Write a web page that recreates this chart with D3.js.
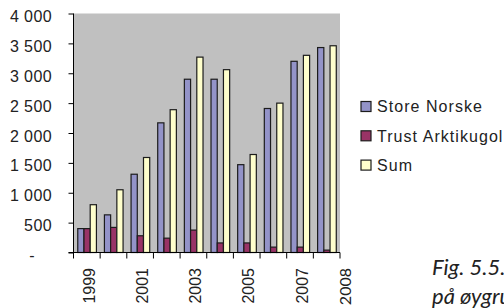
<!DOCTYPE html>
<html>
<head>
<meta charset="utf-8">
<script src="https://cdn.jsdelivr.net/npm/d3@7"></script>
<style>
html,body{margin:0;padding:0;background:#fff;overflow:hidden;}
svg{display:block;}
</style>
</head>
<body>
<svg id="chart" width="504" height="308"></svg>
<script>
const years = ["1999","2000","2001","2002","2003","2004","2005","2006","2007","2008"];
const storeNorske = [400, 630, 1310, 2170, 2900, 2900, 1470, 2410, 3200, 3430];
const trustArktikugol = [400, 420, 280, 240, 375, 160, 160, 90, 90, 40];
const sum = [800, 1050, 1590, 2390, 3270, 3060, 1640, 2500, 3300, 3460];
const seriesNames = ["Store Norske", "Trust Arktikugol", "Sum"];
const seriesColors = ["#9393c8", "#993366", "#ffffcc"];
const yTicks = [0, 500, 1000, 1500, 2000, 2500, 3000, 3500, 4000];
const xLabels = ["1999", "2001", "2003", "2005", "2007"];
const edgeLabel = "2008";
const captionLines = ["Fig. 5.5.", "på øygru"];

const allSeries = [storeNorske, trustArktikugol, sum];
const svg = d3.select("#chart");

const pL = 73.5, pR = 340, pT = 13.5, pB = 252.5;

const x0 = d3.scaleBand().domain(years).range([pL, pR]).padding(0);
const bw = x0.bandwidth();
const x1 = d3.scaleBand().domain(seriesNames).range([bw * 0.16, bw * 0.86]).padding(0);
const y = d3.scaleLinear().domain([0, 4000]).range([pB, pT]);

// plot background
svg.append("rect").attr("x", pL).attr("y", pT).attr("width", pR - pL).attr("height", pB - pT)
  .attr("fill", "#c0c0c0");

// bars
const groups = svg.append("g").selectAll("g").data(years).join("g")
  .attr("transform", d => `translate(${x0(d)},0)`);
groups.selectAll("rect").data((d, i) => seriesNames.map((s, j) => ({s, j, v: allSeries[j][i]})))
  .join("rect")
  .attr("x", d => x1(d.s))
  .attr("y", d => y(d.v))
  .attr("width", x1.bandwidth())
  .attr("height", d => y(0) - y(d.v))
  .attr("fill", d => seriesColors[d.j])
  .attr("stroke", "#1c1c1c")
  .attr("stroke-width", 1.2);

// y axis
const yAxis = d3.axisLeft(y).tickValues(yTicks).tickSize(5).tickFormat("");
const gy = svg.append("g").attr("transform", `translate(${pL},0)`).call(yAxis);
gy.select(".domain").attr("stroke", "#000").attr("d", `M0,${pT}V${pB}`);
gy.selectAll(".tick line").attr("stroke", "#000");

svg.append("g").selectAll("text").data(yTicks).join("text")
  .attr("x", d => d === 0 ? 32 : 52)
  .attr("y", d => y(d) + 3)
  .attr("dy", "0.35em")
  .attr("text-anchor", d => d === 0 ? "middle" : "end")
  .attr("font-family", "'Liberation Sans', Arial, sans-serif")
  .attr("font-size", 16)
  .attr("letter-spacing", 0.4)
  .attr("fill", "#222")
  .text(d => d === 0 ? "-" : d3.format(",")(d).replace(/,/g, " "));

// x axis
const xEdges = years.map(d => x0(d)).concat([pR]);
const gx = svg.append("g");
gx.append("line").attr("x1", pL - 5).attr("x2", pR).attr("y1", pB).attr("y2", pB).attr("stroke", "#000");
gx.selectAll("line.t").data(xEdges).join("line").attr("class", "t")
  .attr("x1", d => d).attr("x2", d => d).attr("y1", pB).attr("y2", pB + 6).attr("stroke", "#000");

svg.append("g").selectAll("text").data(xLabels).join("text")
  .attr("transform", d => `translate(${x0(d) + bw / 2 + 2},268) rotate(-90)`)
  .attr("text-anchor", "end")
  .attr("dy", "0.36em")
  .attr("font-family", "'Liberation Sans', Arial, sans-serif")
  .attr("font-size", 16)
  .attr("fill", "#222")
  .text(d => d);

svg.append("text")
  .attr("transform", `translate(${x0(edgeLabel) + bw + 5},268) rotate(-90)`)
  .attr("text-anchor", "end")
  .attr("dy", "0.36em")
  .attr("font-family", "Lato, sans-serif")
  .attr("font-size", 16)
  .attr("fill", "#222")
  .text(edgeLabel);

// legend
const lg = svg.append("g").selectAll("g").data(seriesNames).join("g")
  .attr("transform", (d, i) => `translate(361,${101.5 + i * 29.3})`);
lg.append("rect").attr("width", 10).attr("height", 10)
  .attr("fill", (d, i) => seriesColors[i]).attr("stroke", "#1c1c1c").attr("stroke-width", 1.2);
lg.append("text").attr("x", 16).attr("y", 5).attr("dy", "0.36em")
  .attr("font-family", "'Liberation Sans', Arial, sans-serif")
  .attr("font-size", 16)
  .attr("letter-spacing", 1.05)
  .attr("fill", "#222")
  .text(d => d);

// caption
svg.append("g").selectAll("text").data(captionLines).join("text")
  .attr("x", 432).attr("y", (d, i) => 275 + i * 29)
  .attr("font-family", "Lato, sans-serif")
  .attr("font-style", "italic")
  .attr("font-size", 22)
  .attr("fill", "#222")
  .text(d => d);
</script>
</body>
</html>
